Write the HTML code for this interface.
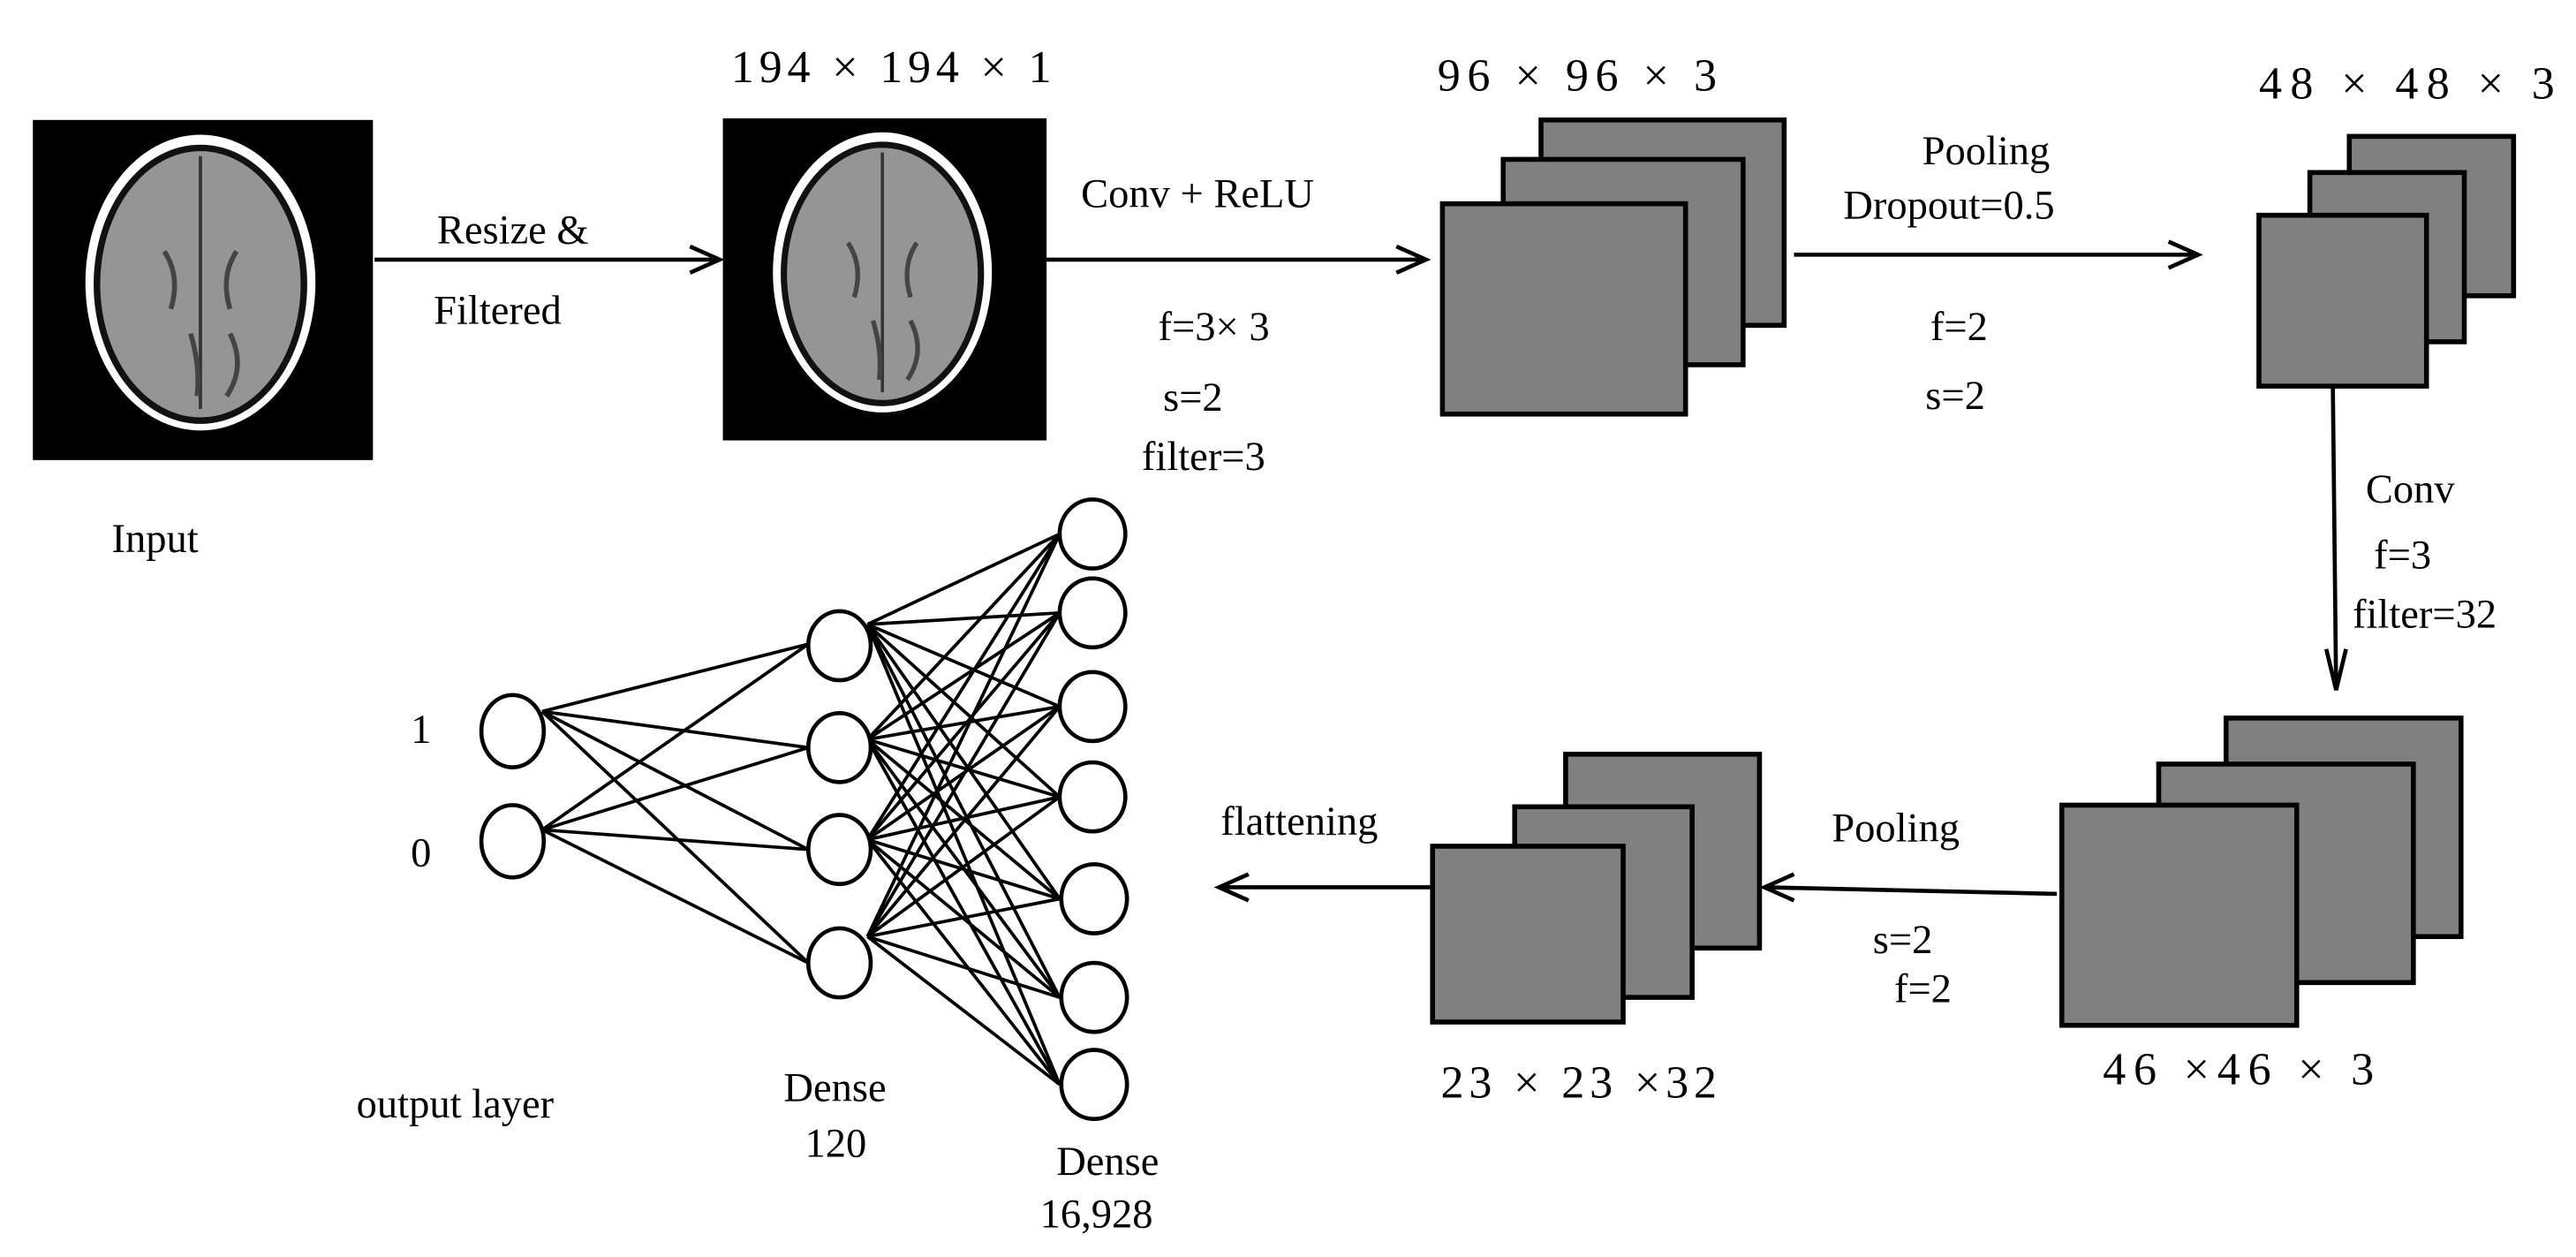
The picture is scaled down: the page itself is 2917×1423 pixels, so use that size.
<!DOCTYPE html>
<html><head><meta charset="utf-8"><style>
html,body{margin:0;padding:0;background:#fff;}
svg{display:block;}
text{font-family:"Liberation Serif",serif;font-size:25px;fill:#000;}
.d{font-size:28px;}
</style></head><body>
<svg width="2917" height="1423" viewBox="0 0 1568 765" preserveAspectRatio="none" xmlns="http://www.w3.org/2000/svg">
<defs>
<g id="brain">
<rect x="0" y="0" width="207" height="207" fill="#000"/>
<ellipse cx="102" cy="99" rx="70" ry="90" fill="#fff"/>
<ellipse cx="102" cy="100" rx="65" ry="85" fill="#111"/>
<ellipse cx="102" cy="100" rx="61" ry="81" fill="#959595"/>
<path d="M102 22 L102 176" stroke="#333" stroke-width="2"/>
<path d="M80 80 Q90 95 84 115 M124 80 Q114 95 120 115 M96 130 Q102 150 100 168 M120 130 Q130 150 118 168" stroke="#444" stroke-width="3" fill="none"/>
</g>
</defs>
<use href="#brain" x="20" y="73"/>
<g transform="translate(440,72) scale(0.952,0.947)"><use href="#brain" x="0" y="0"/></g>

<g stroke="#000" stroke-width="2.5" fill="none">
<line x1="228" y1="158" x2="438" y2="158"/><polyline points="420,150 438,158 420,166"/>
<line x1="637" y1="158" x2="868" y2="158"/><polyline points="850,150 868,158 850,166"/>
<line x1="1092" y1="155" x2="1338" y2="155"/><polyline points="1320,147 1338,155 1320,163"/>
<line x1="1420" y1="236" x2="1422" y2="420"/><polyline points="1416,395 1422,420 1428,395"/>
<line x1="1252" y1="544" x2="1074" y2="540"/><polyline points="1092,532 1074,540 1092,548"/>
<line x1="872" y1="540" x2="742" y2="540"/><polyline points="760,532 742,540 760,548"/>
</g>

<g fill="#808080" stroke="#000" stroke-width="3">
<rect x="938" y="73" width="148" height="125"/>
<rect x="915" y="97" width="146" height="125"/>
<rect x="878" y="124" width="148" height="128"/>
<rect x="1430" y="83" width="100" height="97"/>
<rect x="1406" y="105" width="94" height="103"/>
<rect x="1375" y="131" width="102" height="104"/>
<rect x="1355" y="437" width="143" height="133"/>
<rect x="1314" y="465" width="155" height="133"/>
<rect x="1255" y="490" width="143" height="134"/>
<rect x="953" y="459" width="118" height="118"/>
<rect x="922" y="491" width="108" height="116"/>
<rect x="872" y="515" width="116" height="107"/>
</g>

<g stroke="#000" stroke-width="2">
<line x1="330" y1="433" x2="492" y2="392"/><line x1="330" y1="433" x2="492" y2="455"/><line x1="330" y1="433" x2="492" y2="517"/><line x1="330" y1="433" x2="492" y2="586"/>
<line x1="330" y1="505" x2="492" y2="392"/><line x1="330" y1="505" x2="492" y2="455"/><line x1="330" y1="505" x2="492" y2="517"/><line x1="330" y1="505" x2="492" y2="586"/>
<g>
<line x1="528" y1="380" x2="645" y2="325"/><line x1="528" y1="380" x2="645" y2="373"/><line x1="528" y1="380" x2="645" y2="430"/><line x1="528" y1="380" x2="645" y2="485"/><line x1="528" y1="380" x2="645" y2="547"/><line x1="528" y1="380" x2="645" y2="607"/><line x1="528" y1="380" x2="645" y2="660"/>
</g>
<g transform="translate(0,70)">
<line x1="528" y1="380" x2="645" y2="255"/><line x1="528" y1="380" x2="645" y2="303"/><line x1="528" y1="380" x2="645" y2="360"/><line x1="528" y1="380" x2="645" y2="415"/><line x1="528" y1="380" x2="645" y2="477"/><line x1="528" y1="380" x2="645" y2="537"/><line x1="528" y1="380" x2="645" y2="590"/>
</g>
<g transform="translate(0,131)">
<line x1="528" y1="380" x2="645" y2="194"/><line x1="528" y1="380" x2="645" y2="242"/><line x1="528" y1="380" x2="645" y2="299"/><line x1="528" y1="380" x2="645" y2="354"/><line x1="528" y1="380" x2="645" y2="416"/><line x1="528" y1="380" x2="645" y2="476"/><line x1="528" y1="380" x2="645" y2="529"/>
</g>
<g transform="translate(0,190)">
<line x1="528" y1="380" x2="645" y2="135"/><line x1="528" y1="380" x2="645" y2="183"/><line x1="528" y1="380" x2="645" y2="240"/><line x1="528" y1="380" x2="645" y2="295"/><line x1="528" y1="380" x2="645" y2="357"/><line x1="528" y1="380" x2="645" y2="417"/><line x1="528" y1="380" x2="645" y2="470"/>
</g>
</g>

<g fill="#fff" stroke="#000" stroke-width="2.5">
<ellipse cx="312" cy="445" rx="19" ry="22"/><ellipse cx="312" cy="512" rx="19" ry="22"/>
<ellipse cx="511" cy="393" rx="19" ry="21"/><ellipse cx="511" cy="455" rx="19" ry="21"/><ellipse cx="511" cy="517" rx="19" ry="21"/><ellipse cx="511" cy="586" rx="19" ry="21"/>
<ellipse cx="665" cy="325" rx="20" ry="21"/><ellipse cx="665" cy="373" rx="20" ry="21"/><ellipse cx="665" cy="430" rx="20" ry="21"/><ellipse cx="665" cy="485" rx="20" ry="21"/><ellipse cx="666" cy="547" rx="20" ry="21"/><ellipse cx="666" cy="607" rx="20" ry="21"/><ellipse cx="666" cy="660" rx="20" ry="21"/>
</g>

<text class="d" x="445" y="50" textLength="195" lengthAdjust="spacing">194 × 194 × 1</text>
<text class="d" x="875" y="55" textLength="170" lengthAdjust="spacing">96 × 96 × 3</text>
<text class="d" x="1375" y="60" textLength="180" lengthAdjust="spacing">48 × 48 × 3</text>
<text class="d" x="877" y="668" textLength="168" lengthAdjust="spacing">23 × 23 ×32</text>
<text class="d" x="1280" y="660" textLength="165" lengthAdjust="spacing">46 ×46 × 3</text>
<text x="266" y="148">Resize &amp;</text>
<text x="264" y="197">Filtered</text>
<text x="658" y="126">Conv + ReLU</text>
<text x="705" y="207">f=3× 3</text>
<text x="708" y="250">s=2</text>
<text x="695" y="286">filter=3</text>
<text x="68" y="336">Input</text>
<text x="1170" y="100">Pooling</text>
<text x="1122" y="133">Dropout=0.5</text>
<text x="1175" y="207">f=2</text>
<text x="1172" y="249">s=2</text>
<text x="1440" y="306">Conv</text>
<text x="1445" y="346">f=3</text>
<text x="1432" y="382">filter=32</text>
<text x="1115" y="512">Pooling</text>
<text x="1140" y="580">s=2</text>
<text x="1153" y="610">f=2</text>
<text x="743" y="508">flattening</text>
<text x="250" y="452">1</text>
<text x="250" y="527">0</text>
<text x="217" y="680">output layer</text>
<text x="477" y="670">Dense</text>
<text x="490" y="704">120</text>
<text x="643" y="715">Dense</text>
<text x="633" y="747">16,928</text>
</svg>
</body></html>
